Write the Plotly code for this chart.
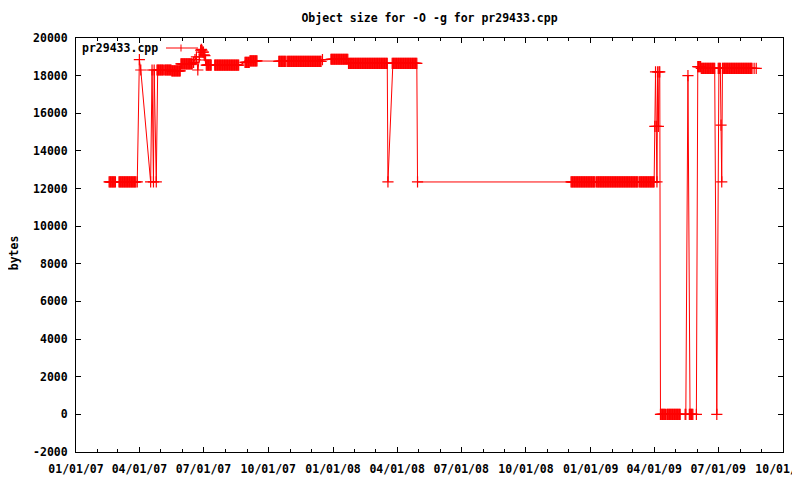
import pandas as pd
import plotly.graph_objects as go

# Runs of (daily) builds: first day, last day, object size in bytes
run_start = [
    "2007-02-17", "2007-03-03", "2007-03-29", "2007-04-01", "2007-04-03",
    "2007-04-17", "2007-04-19", "2007-04-21", "2007-04-22", "2007-04-25",
    "2007-04-26", "2007-05-07", "2007-05-17", "2007-05-30", "2007-06-17",
    "2007-06-19", "2007-06-21", "2007-06-23", "2007-06-25", "2007-06-27",
    "2007-06-28", "2007-06-29", "2007-06-30", "2007-07-02", "2007-07-03",
    "2007-07-04", "2007-07-05", "2007-07-17", "2007-08-29", "2007-09-05",
    "2007-10-16", "2007-10-28", "2007-12-17", "2007-12-29", "2008-01-23",
    "2008-03-19", "2008-03-25", "2008-04-30", "2008-12-04", "2009-01-09",
    "2009-03-11", "2009-04-02", "2009-04-03", "2009-04-04", "2009-04-05",
    "2009-04-06", "2009-04-07", "2009-04-08", "2009-04-10", "2009-04-19",
    "2009-05-15", "2009-05-19", "2009-05-21", "2009-05-31", "2009-06-02",
    "2009-06-07", "2009-06-29", "2009-07-01", "2009-07-05", "2009-07-06",
    "2009-07-07", "2009-08-21", "2009-08-24",
]
run_end = [
    "2007-02-26", "2007-03-27", "2007-03-29", "2007-04-01", "2007-04-03",
    "2007-04-17", "2007-04-19", "2007-04-21", "2007-04-22", "2007-04-25",
    "2007-05-05", "2007-05-16", "2007-05-29", "2007-06-15", "2007-06-17",
    "2007-06-19", "2007-06-21", "2007-06-23", "2007-06-25", "2007-06-27",
    "2007-06-28", "2007-06-29", "2007-07-01", "2007-07-02", "2007-07-03",
    "2007-07-04", "2007-07-12", "2007-08-20", "2007-09-04", "2007-09-15",
    "2007-10-26", "2007-12-15", "2007-12-17", "2008-01-22", "2008-03-18",
    "2008-03-19", "2008-04-29", "2008-04-30", "2009-01-07", "2009-03-09",
    "2009-04-01", "2009-04-02", "2009-04-03", "2009-04-04", "2009-04-05",
    "2009-04-06", "2009-04-07", "2009-04-09", "2009-04-17", "2009-05-08",
    "2009-05-16", "2009-05-19", "2009-05-26", "2009-05-31", "2009-06-06",
    "2009-06-26", "2009-06-29", "2009-07-04", "2009-07-05", "2009-07-06",
    "2009-08-18", "2009-08-21", "2009-08-24",
]
run_bytes = [
    12350, 12350, 12350, 18850, 18300,
    12350, 18300, 12350, 18300, 12350,
    18300, 18300, 18250, 18620, 18700,
    18850, 19000, 18300, 19000, 19350,
    19400, 19350, 19250, 19100, 19060,
    18830, 18560, 18560, 18700, 18780,
    18760, 18760, 18850, 18870, 18650,
    12350, 18650, 12350, 12350, 12350,
    12350, 15300, 18200, 15300, 12350,
    18200, 15300, 18200, 0, 0,
    0, 18000, 0, 0, 18480,
    18390, 0, 18390, 15370, 12350,
    18390, 18390, 18390,
]

y_tick_vals = [-2000, 0, 2000, 4000, 6000, 8000, 10000, 12000, 14000, 16000, 18000, 20000]
y_tick_text = ["-2000", "0", "2000", "4000", "6000", "8000", "10000", "12000",
               "14000", "16000", "18000", "20000"]

series_name = "pr29433.cpp"
title_text = "Object size for -O -g for pr29433.cpp"

dates, sizes = [], []
for s, e, v in zip(run_start, run_end, run_bytes):
    for d in pd.date_range(s, e, freq="D"):
        dates.append(d)
        sizes.append(v)

RED = "#ff0000"
FONT = dict(family="DejaVu Sans Mono", size=11.5, color="black", weight="bold")

# page body has an 8px margin: figure is 792x472 placed at (8, 8)
W, H = 792, 472
ML, MR, MT, MB = 68, 17, 30, 28
PW, PH = W - ML - MR, H - MT - MB  # 707 x 414

fig = go.Figure()
fig.add_trace(go.Scatter(
    x=dates, y=sizes, mode="lines+markers", name=series_name,
    line=dict(color=RED, width=1),
    marker=dict(symbol="cross-thin", size=8, line=dict(color=RED, width=1.2), color=RED),
    showlegend=False, hoverinfo="skip",
))

axis_common = dict(
    showgrid=False, zeroline=False, showline=True, linecolor="black", linewidth=1,
    mirror="allticks", ticks="inside", ticklen=5, tickcolor="black", tickwidth=1,
    tickfont=FONT, automargin=False,
)

fig.update_xaxes(
    type="date", range=["2007-01-01", "2009-10-01"], tick0="2007-01-01", dtick="M3",
    tickformat="%m/%d/%y", ticklabelstandoff=6, ticklabeloverflow="allow",
    minor=dict(ticks="inside", ticklen=3, dtick="M1", tick0="2007-01-01",
               tickcolor="black", showgrid=False),
    **axis_common,
)
fig.update_yaxes(
    range=[-2000, 20000], tickmode="array", tickvals=y_tick_vals, ticktext=y_tick_text,
    ticklabelstandoff=5,
    **axis_common,
)

# gnuplot-style key: text then line sample with a point
ky = 1 - 10 / PH
x0, x1, xm = 90 / PW, 122 / PW, 105 / PW
fig.add_shape(type="line", xref="paper", yref="paper", x0=x0, x1=x1, y0=ky, y1=ky,
              line=dict(color=RED, width=1))
fig.add_shape(type="line", xref="paper", yref="paper", x0=xm, x1=xm,
              y0=ky - 3.5 / PH, y1=ky + 3.5 / PH, line=dict(color=RED, width=1))

fig.add_annotation(text=series_name, xref="paper", yref="paper", x=4 / PW, y=ky,
                   xanchor="left", yanchor="middle", showarrow=False, font=FONT)
fig.add_annotation(text="bytes", xref="paper", yref="paper", x=-62 / PW, y=0.48,
                   xanchor="center", yanchor="middle", textangle=-90, showarrow=False,
                   font=FONT)

fig.update_layout(
    width=W, height=H,
    margin=dict(l=ML, r=MR, t=MT, b=MB, autoexpand=False),
    paper_bgcolor="white", plot_bgcolor="white",
    font=FONT,
    title=dict(text=title_text, x=0.5, xref="paper", y=1 - 10 / H, yref="container",
               xanchor="center", yanchor="middle", font=FONT, automargin=False),
)

fig.write_html("out.html")
